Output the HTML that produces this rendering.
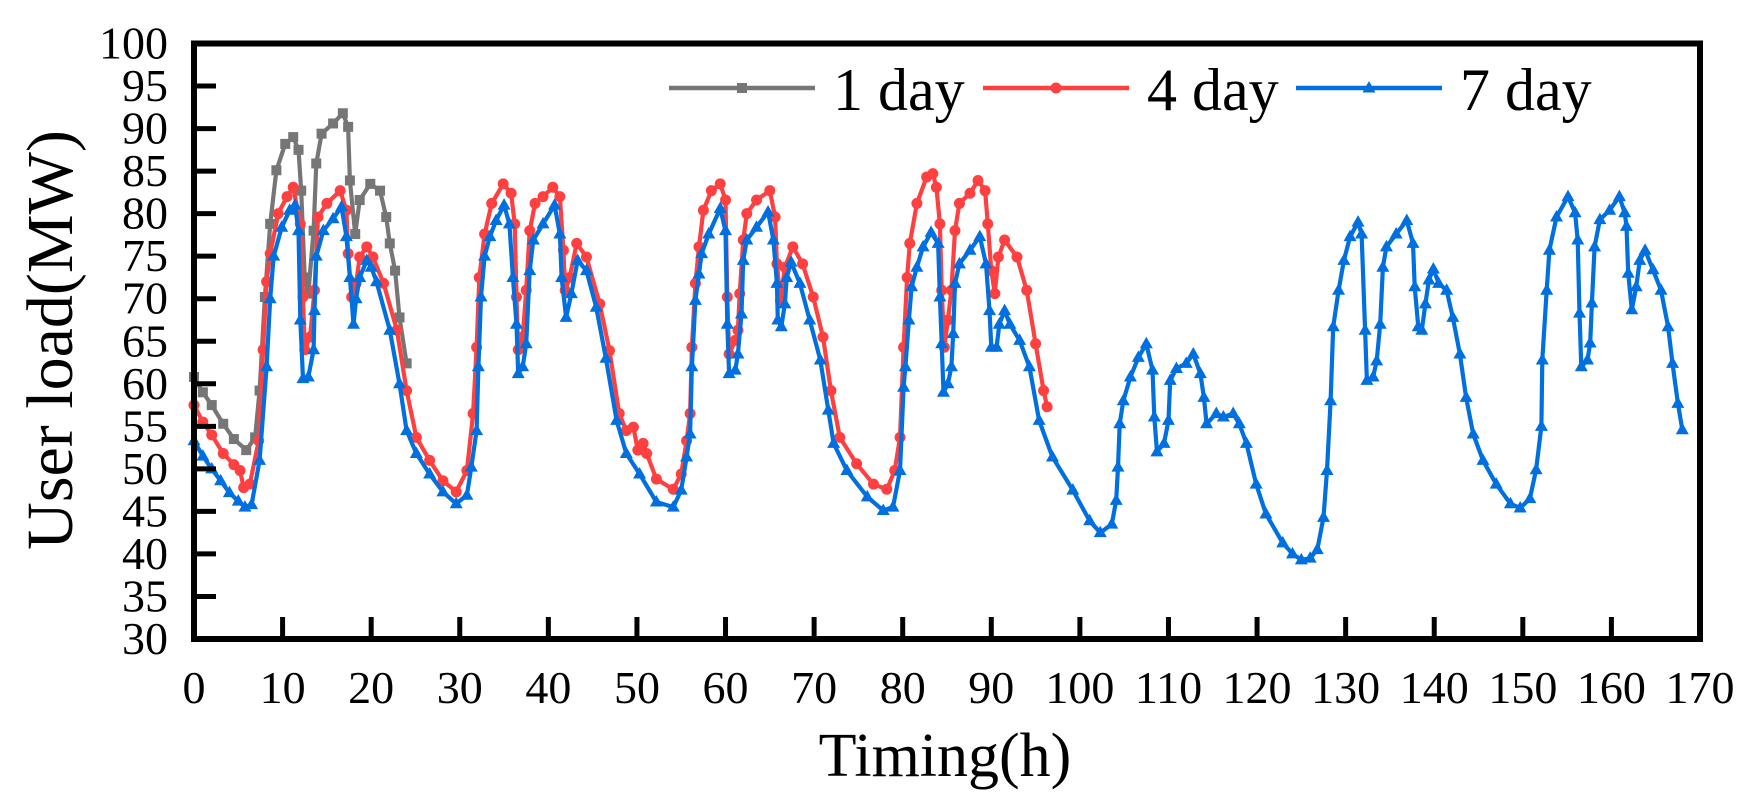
<!DOCTYPE html>
<html><head><meta charset="utf-8"><style>
html,body{margin:0;padding:0;background:#fff}
svg{display:block}
text{font-family:"Liberation Serif","Times New Roman",serif;fill:#000}
</style></head><body>
<svg id="chart" width="1764" height="803" viewBox="0 0 1764 803" xmlns="http://www.w3.org/2000/svg">
<g id="series"></g>
<g id="axes"></g>
<text x="0" y="0" font-size="66" text-anchor="middle" transform="translate(72,340) rotate(-90)">User load(MW)</text>
<text x="945" y="776" font-size="62" text-anchor="middle">Timing(h)</text>
<g id="legend"></g>
</svg>
<script>
const xTicks = [0,10,20,30,40,50,60,70,80,90,100,110,120,130,140,150,160,170];
const yTicks = [30,35,40,45,50,55,60,65,70,75,80,85,90,95,100];
const seriesNames = ["1 day","4 day","7 day"];

const t1 = [0,1,2,3.3,4.5,5.9,6.9,7.4,8,8.6,9.3,10.3,11.2,11.8,12.1,12.5,12.9,13.5,13.8,14.4,15.7,16.8,17.4,17.6,18.2,18.7,19.9,21,21.7,22.1,22.7,23.2,24];
const v1 = [60.8,59,57.5,55.3,53.5,52.2,53.7,59.2,70.2,78.8,85.1,88.2,89,87.5,82.7,72.5,70.6,78,85.9,89.4,90.6,91.8,90.2,83.9,77.6,81.6,83.5,82.7,79.6,76.5,73.3,67.8,62.4];

const t4 = [0,1,2,3.3,4.5,5.2,5.6,6.3,7.3,7.8,8.2,8.6,9.5,10.5,11.2,12,12.3,12.5,13.1,13.6,14,15,16.5,17.2,17.4,17.8,18.3,18.7,19.5,20.2,21.4,22.9,24,25.1,26.6,28.1,29.6,30.8,31.5,31.9,32.2,32.8,33.6,34.9,35.8,36.2,36.4,36.6,37.1,37.5,37.9,38.5,39.4,40.5,41.3,41.7,41.9,42.4,43.2,44.3,45.8,46.9,48,48.8,49.6,50.1,50.7,51.1,52.2,54.1,55,55.6,56,56.2,56.6,57,57.5,58.4,59.4,60,60.2,60.4,61.1,61.4,61.6,62,62.4,63.5,65,65.6,65.8,66.2,66.7,67.6,68.7,69.9,71,71.9,72.9,74.8,76.7,78.2,79.1,79.7,80.1,80.5,80.8,81.6,82.7,83.4,83.8,84.2,84.4,84.7,85.1,85.5,85.9,86.4,87.6,88.5,89.3,89.6,90,90.4,90.8,91.5,92.9,94,95,95.9,96.3];
const v4 = [57.5,55.5,54,51.8,50.5,49.8,47.8,48.2,53.3,64,72,75.3,80,82,83.1,78.8,70.2,64,65.5,71,79.6,81.2,82.7,80.4,75.3,70.2,71.8,74.9,76.1,74.9,71.8,66.3,59.2,53.7,51,48.6,47.3,49.8,56.5,64.3,72.5,77.6,81.2,83.5,82.4,78.8,70.2,64,65.5,71,78,81.2,82,83.1,82,75.7,71,72.5,76.5,74.9,69.4,63.9,56.5,54.5,54.9,52.2,53,51.8,48.8,47.6,49.4,53.3,56.5,64.3,71.8,76.1,80.4,82.7,83.5,81.6,70.2,63.5,65.1,66.3,70.6,76.9,80,81.6,82.7,79.6,74.1,69.8,73.7,76.1,74.1,70.2,65.5,59.2,53.7,50.6,48.2,47.6,49.8,53.7,64.3,72.5,76.5,81.2,84.3,84.7,83.1,78.8,71,64.3,67.5,71,78,81.2,82.4,83.9,82.7,78.8,73.3,70.6,74.9,76.9,74.9,71,64.7,59.2,57.3];

const t7 = [0,1,2,3,4,5,5.75,6.5,7.4,8.2,8.6,9,9.9,10.8,11.4,11.8,12,12.3,12.9,13.5,13.6,13.8,14.6,15.7,16.65,17.2,17.6,18,18.3,18.7,19.5,20,20.6,22.1,23.2,24,25.1,26.6,28.1,29.6,30.8,31.3,31.9,32.1,32.4,32.8,33.4,34.1,35,35.6,36,36.4,36.6,37.1,37.5,37.9,38.3,39.4,40.7,41.3,41.5,42,42.6,43.3,44.3,45.4,46.5,47.7,48.8,50.3,52.2,54.1,55,55.6,56,56.2,56.6,57,57.3,58.1,59.4,60,60.2,60.4,61.1,61.4,61.8,62,62.4,63.5,64.8,65.4,65.8,65.9,66.3,66.7,66.9,67.4,68.4,69.5,70.7,71.6,72.2,73.7,76,77.8,78.9,79.7,80.1,80.3,80.7,81,81.6,82.3,83.2,84,84.2,84.4,84.6,85.1,85.5,85.7,85.9,86.4,87.6,88.7,89.4,89.8,90,90.6,90.9,91.5,92.1,93.2,94.3,95.4,96.9,99.2,101.1,102.3,103.6,104.1,104.3,104.5,104.9,105.7,106.6,107.5,108.2,108.4,108.7,109.5,110,110.2,110.9,112,112.8,113.6,114,114.3,115.4,116.2,117.3,118,118.8,119.9,121,122.9,124,125,126,126.8,127.5,127.9,128.3,128.6,129.2,129.8,130.5,131.4,131.8,132.2,132.4,133.1,133.5,133.9,134.2,134.6,135.7,136.9,137.6,137.8,138.2,138.6,139,139.4,139.9,140.5,141.4,142.1,142.9,143.6,144.4,145.5,147,148.6,149.7,150.8,151.5,152.1,152.2,152.7,153,153.8,155.1,155.9,156.2,156.4,156.6,157.3,157.6,157.8,158.1,158.7,159.8,160.9,161.5,161.7,161.9,162.3,162.8,163.2,163.8,164.7,165.6,166.4,166.9,167.5,168];
const v7 = [53.3,51.5,50,48.6,47.2,46.2,45.5,45.8,51,62,70,75,78.4,80.4,81,78,67.5,60.6,60.8,64,68.6,75,78,79.4,80.8,77.3,72.5,67,70,72.5,74.5,73.7,72,66.3,60,54.5,51.8,49.4,47.3,45.9,46.9,50.2,54.5,62,70.2,75,77.3,79.2,81,78.8,72.5,67,61.2,62,64.7,73.3,76.9,78.8,81,77.6,72.5,67.8,70.6,74.5,73.3,69,63,55.7,51.8,49.4,46.1,45.5,47.5,51.4,54.1,62,69.8,72.9,75.3,77.6,80.6,78,67,61.2,61.6,63.5,68.2,74.5,76.9,78.4,80.2,76.9,71.8,67.5,66.7,69.4,72.5,74.3,71.8,67.5,62.8,56.9,53,49.8,46.7,45.1,45.5,49.8,59.6,62,67.5,71.4,73.7,76.1,77.8,76.5,70.2,64.7,59,60,62,65.9,71.8,74.1,75.7,77.3,74.1,68.6,64.3,64.3,67,68.6,67,65.1,62,55.7,51.4,47.5,43.9,42.5,43.5,46.3,50.2,55.3,58,60.8,63.1,64.7,61.6,56.1,52,53,55.7,60.4,61.8,62.4,63.5,61.2,58.4,55.3,56.5,56.1,56.5,55.3,53,48.2,44.7,41.3,40,39.3,39.5,40.5,44.3,49.8,58,66.7,71,74.5,77.3,79,77.6,66.3,60.4,60.8,62.7,67,73.7,76.1,77.6,79.2,76.5,71.4,66.7,66.3,69.4,72.2,73.5,71.8,71,67.8,63.5,58.4,54.1,51,48.2,45.9,45.4,46.5,49.9,55,62.8,71,75.7,79.6,82,80.1,76.9,68.3,62,62.8,64.8,69.5,76.1,79.3,80.4,82,80.1,78.5,73,68.7,71.4,74.5,75.7,73.4,71,66.7,62.4,57.7,54.6];

const NS = "http://www.w3.org/2000/svg";
const X0 = 194, X1 = 1700, Y0 = 639, Y1 = 43.5;
function xs(h){ return X0 + (h - 0) / (170 - 0) * (X1 - X0); }
function ys(v){ return Y0 - (v - 30) / (100 - 30) * (Y0 - Y1); }
function mk(tag, attrs){ const e = document.createElementNS(NS, tag); for (const k in attrs) e.setAttribute(k, attrs[k]); return e; }

const axes = document.getElementById('axes');
const series = document.getElementById('series');
const legend = document.getElementById('legend');

xTicks.forEach(t => {
  const x = xs(t);
  if (t > 0 && t < 170) {
    const tk = mk('line', {x1:x, y1:Y0, x2:x, y2:Y0-22, stroke:'#000','stroke-width':5});
    
    
    axes.appendChild(tk);
  }
  const lb = mk('text', {x:x, y:703, 'font-size':46, 'text-anchor':'middle'});
  lb.textContent = t;
  
  
  axes.appendChild(lb);
});
yTicks.forEach(t => {
  const y = ys(t);
  if (t > 30 && t < 100) {
    const tk = mk('line', {x1:X0, y1:y, x2:X0+22, y2:y, stroke:'#000','stroke-width':5});
    
    
    axes.appendChild(tk);
  }
  const lb = mk('text', {x:168, y:y+15, 'font-size':46, 'text-anchor':'end'});
  lb.textContent = t;
  
  
  axes.appendChild(lb);
});
const frame = mk('rect', {x:X0, y:Y1, width:X1-X0, height:Y0-Y1, fill:'none', stroke:'#000', 'stroke-width':6});


axes.appendChild(frame);

function marker(kind, x, y, color){
  let e;
  if (kind === 'square') e = mk('rect', {x:x-5, y:y-5, width:10, height:10, fill:color});
  else if (kind === 'circle') e = mk('circle', {cx:x, cy:y, r:5.5, fill:color});
  else e = mk('polygon', {points:(x)+','+(y-7)+' '+(x-6.5)+','+(y+4.5)+' '+(x+6.5)+','+(y+4.5), fill:color});
  return e;
}

const cfg = [
  {t:t1, v:v1, color:'#767676', kind:'square', name:'series-1-day'},
  {t:t4, v:v4, color:'#ff4040', kind:'circle', name:'series-4-day'},
  {t:t7, v:v7, color:'#0070e0', kind:'triangle', name:'series-7-day'}
];
cfg.forEach(s => {
  const g = mk('g', {});
  
  
  const pts = s.t.map((h,i) => xs(h).toFixed(1) + ',' + ys(s.v[i]).toFixed(1)).join(' ');
  const pl = mk('polyline', {points:pts, fill:'none', stroke:s.color, 'stroke-width':4.2, 'stroke-linejoin':'round'});
  
  
  g.appendChild(pl);
  s.t.forEach((h,i) => {
    const m = marker(s.kind, xs(h), ys(s.v[i]), s.color);
    
    
    g.appendChild(m);
  });
  series.appendChild(g);
});

const legX = [669, 983, 1296];
cfg.forEach((s, i) => {
  const g = mk('g', {});
  
  
  const x = legX[i];
  g.appendChild(mk('line', {x1:x, y1:88, x2:x+146, y2:88, stroke:s.color, 'stroke-width':4.5}));
  g.appendChild(marker(s.kind, x+73, 88, s.color));
  const tx = mk('text', {x:x+164, y:110, 'font-size':60});
  tx.textContent = seriesNames[i];
  g.appendChild(tx);
  legend.appendChild(g);
});
</script>
</body></html>
